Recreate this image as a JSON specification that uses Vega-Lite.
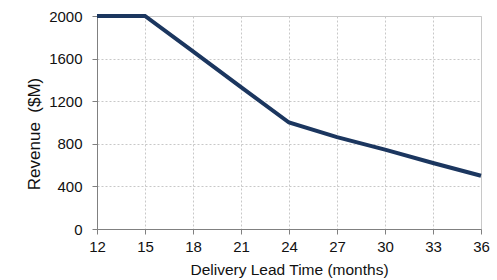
{
  "$schema": "https://vega.github.io/schema/vega-lite/v6.json",
  "width": 384,
  "height": 213,
  "autosize": {"type": "none"},
  "padding": {"left": 97, "top": 16, "right": 16, "bottom": 51},
  "background": "white",
  "config": {
    "view": {"stroke": "#c8c8c8", "strokeWidth": 1},
    "font": "Liberation Sans"
  },
  "data": {
    "values": [
      {"lead": 12, "revenue": 2000},
      {"lead": 15, "revenue": 2000},
      {"lead": 18, "revenue": 1667},
      {"lead": 21, "revenue": 1333},
      {"lead": 24, "revenue": 1000},
      {"lead": 27, "revenue": 862},
      {"lead": 30, "revenue": 745},
      {"lead": 33, "revenue": 620},
      {"lead": 36, "revenue": 500}
    ]
  },
  "mark": {"type": "line", "color": "#1b365f", "strokeWidth": 4, "clip": false},
  "encoding": {
    "x": {
      "field": "lead",
      "type": "quantitative",
      "scale": {"domain": [12, 36], "nice": false, "zero": false},
      "axis": {
        "values": [12, 15, 18, 21, 24, 27, 30, 33, 36],
        "format": "d",
        "title": "Delivery Lead Time (months)",
        "titleFont": "Liberation Sans",
        "titleFontSize": 15.5,
        "titleFontWeight": "normal",
        "titleColor": "#111",
        "titlePadding": 8,
        "labelFont": "Liberation Sans",
        "labelFontSize": 15,
        "labelColor": "#111",
        "labelPadding": 5,
        "tickSize": 5,
        "tickColor": "#808080",
        "domainColor": "#808080",
        "gridColor": "#c8c8c8",
        "gridDash": [2, 2],
        "labelFlush": false
      }
    },
    "y": {
      "field": "revenue",
      "type": "quantitative",
      "scale": {"domain": [0, 2000], "nice": false},
      "axis": {
        "values": [0, 400, 800, 1200, 1600, 2000],
        "format": "d",
        "title": "Revenue\u00a0\u00a0($M)",
        "titleFont": "Liberation Sans",
        "titleFontSize": 17,
        "titleFontWeight": "normal",
        "titleColor": "#111",
        "titlePadding": 5,
        "titleY": 117.5,
        "labelFont": "Liberation Sans",
        "labelFontSize": 15,
        "labelColor": "#111",
        "labelPadding": 10,
        "tickSize": 5,
        "tickColor": "#808080",
        "domainColor": "#808080",
        "gridColor": "#c8c8c8",
        "gridDash": [2, 2],
        "labelFlush": false
      }
    }
  }
}
